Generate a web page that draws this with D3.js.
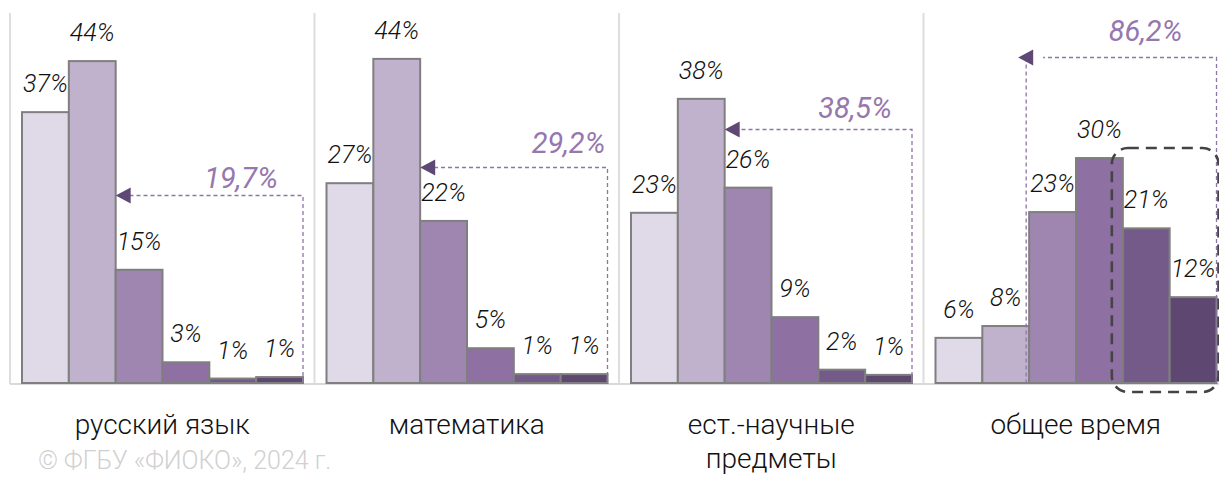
<!DOCTYPE html>
<html>
<head>
    <meta charset="utf-8" />
    <title>chart</title>
    <script src="https://d3js.org/d3.v7.min.js"></script>
    <style>
        body { margin: 0; background: #fff; }
        svg { display: block; }
    </style>
</head>
<body>
    <script>
        // data
        var categories = ["русский язык", "математика", "ест.-научные предметы", "общее время"];
        var categoryLines = [["русский язык"], ["математика"], ["ест.-научные", "предметы"], ["общее время"]];
        var rus = [36.6, 43.5, 15.3, 2.8, 0.6, 0.8];
        var math = [27.0, 43.8, 21.9, 4.7, 1.2, 1.2];
        var sci = [23.0, 38.4, 26.4, 8.9, 1.8, 1.1];
        var overall = [6.1, 7.7, 23.1, 30.4, 20.9, 11.6];
        var series = [rus, math, sci, overall];
        var shares = [19.7, 29.2, 38.5, 86.2];     // sum of bars 3..6
        var arrowLevel = [25.4, 29.2, 34.3, 44.1];  // height of the bracket, in %
        var colors = ["#e0d9e7", "#c0b2cc", "#9f86b0", "#8e70a2", "#745a89", "#5e4770"];

        var w = 1219;
        var h = 477;
        var base = 383;

        var svg = d3.select("body").append("svg")
            .attr("width", w)
            .attr("height", h);

        var x0 = d3.scaleBand().domain(categories).range([10, 1228]).padding(0);
        var x1 = d3.scaleBand().domain(d3.range(6)).range([12, 12 + 281]).padding(0);
        var y = d3.scaleLinear().domain([0, 50]).range([base, base - 370]);

        var fmt = function (d) { return String(d).replace(".", ",") + "%"; };

        // panel separators + baseline
        svg.selectAll("line.sep")
            .data(categories)
            .enter().append("line")
            .attr("class", "sep")
            .attr("x1", function (d) { return x0(d); })
            .attr("x2", function (d) { return x0(d); })
            .attr("y1", 13)
            .attr("y2", base + 1)
            .attr("stroke", "#dedede")
            .attr("stroke-width", 2);

        svg.append("line")
            .attr("x1", 10).attr("x2", w)
            .attr("y1", base + 1).attr("y2", base + 1)
            .attr("stroke", "#d9d9d9")
            .attr("stroke-width", 2);

        var panel = svg.selectAll("g.panel")
            .data(categories)
            .enter().append("g")
            .attr("class", "panel")
            .attr("transform", function (d) { return "translate(" + x0(d) + ",0)"; });

        // bars
        panel.selectAll("rect")
            .data(function (d, i) { return series[i]; })
            .enter().append("rect")
            .attr("x", function (d, i) { return x1(i); })
            .attr("y", function (d) { return y(d); })
            .attr("width", x1.bandwidth())
            .attr("height", function (d) { return base - y(d); })
            .attr("fill", function (d, i) { return colors[i]; })
            .attr("stroke", "#7f7f7f")
            .attr("stroke-width", 2);

        // value labels
        panel.selectAll("text.val")
            .data(function (d, i) { return series[i]; })
            .enter().append("text")
            .attr("class", "val")
            .attr("x", function (d, i) { return x1(i) + x1.bandwidth() / 2; })
            .attr("y", function (d) { return y(d) - 20; })
            .attr("text-anchor", "middle")
            .attr("font-family", "Roboto, sans-serif")
            .attr("font-weight", 300)
            .attr("font-style", "italic")
            .attr("font-size", 25)
            .attr("fill", "#111")
            .text(function (d) { return Math.round(d) + "%"; });

        // dashed brackets with arrow
        var labelDx = [-62, -39, -57, -71];
        var labelDy = [8, 15, 12, 17];
        panel.each(function (d, i) {
            var g = d3.select(this);
            var right = x1(5) + x1.bandwidth();
            var left = x1(2);
            var ay = Math.round(y(arrowLevel[i])) + 0.5;
            var pts = [[right, base], [right, ay], [left + 14, ay]];
            if (i == 3) {
                left = left - 11;
                g.append("path")
                    .attr("d", d3.line()([[left + 8, ay], [left + 8, base]]))
                    .attr("fill", "none")
                    .attr("stroke", "#8f74a8")
                    .attr("stroke-width", 1.3)
                    .attr("stroke-dasharray", "4,3");
            }
            g.append("path")
                .attr("d", d3.line()(pts))
                .attr("fill", "none")
                .attr("stroke", "#8f74a8")
                .attr("stroke-width", 1.3)
                .attr("stroke-dasharray", "4,3");
            g.append("path")
                .attr("d", "M" + left + "," + ay + "L" + (left + 15) + "," + (ay - 8) + "L" + (left + 15) + "," + (ay + 8) + "Z")
                .attr("fill", "#5f4875");
            g.append("text")
                .attr("x", right + labelDx[i])
                .attr("y", ay - labelDy[i])
                .attr("text-anchor", "middle")
                .attr("font-family", "Roboto, sans-serif")
                .attr("font-style", "italic")
                .attr("font-size", 29)
                .attr("fill", "#9677ae")
                .text(fmt(shares[i]));
        });

        // highlight box round the last two bars of the last panel
        var last = categories[3];
        var bx = x0(last) + x1(4) - 11;
        var bRight = x0(last) + x1(5) + x1.bandwidth() + 2;
        var bTop = y(overall[3]) - 10;
        svg.append("rect")
            .attr("x", bx)
            .attr("y", bTop)
            .attr("width", bRight - bx)
            .attr("height", base + 9 - bTop)
            .attr("rx", 16)
            .attr("fill", "none")
            .attr("stroke", "#444")
            .attr("stroke-width", 2.6)
            .attr("stroke-dasharray", "11,7");

        // category labels
        panel.each(function (d, i) {
            var g = d3.select(this);
            var cx = x0.bandwidth() / 2;
            g.selectAll("text.cat")
                .data(categoryLines[i])
                .enter().append("text")
                .attr("class", "cat")
                .attr("x", cx)
                .attr("y", function (t, j) { return 434 + j * 34; })
                .attr("text-anchor", "middle")
                .attr("font-family", "Roboto, sans-serif")
                .attr("font-weight", 300)
                .attr("font-size", 28)
                .attr("fill", "#111")
                .text(function (t) { return t; });
        });

        // copyright (cut by the frame in the original; kept inside here)
        svg.append("text")
            .attr("x", 38)
            .attr("y", 469)
            .attr("font-family", "Roboto, sans-serif")
            .attr("font-weight", 300)
            .attr("font-size", 25)
            .attr("fill", "#d0d0d0")
            .text("© ФГБУ «ФИОКО», 2024 г.");
    </script>
</body>
</html>
